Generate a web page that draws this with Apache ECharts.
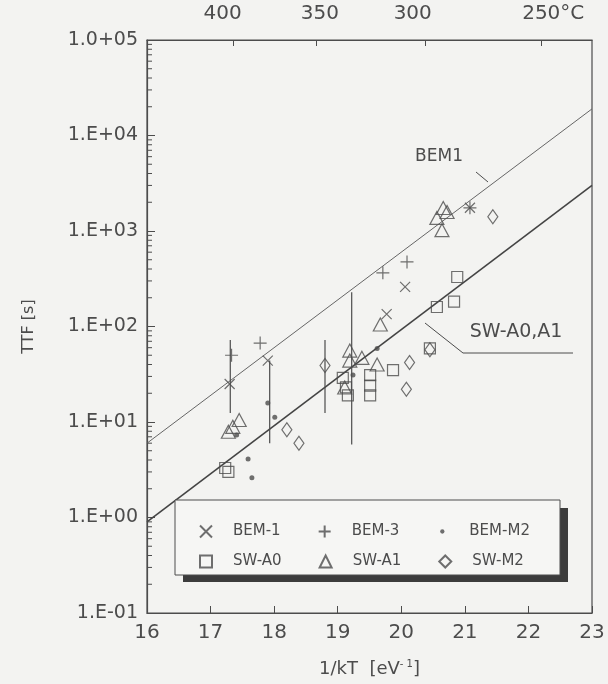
<!DOCTYPE html>
<html><head><meta charset="utf-8">
<script src="https://cdn.jsdelivr.net/npm/echarts@6/dist/echarts.min.js"></script>
<style>html,body{margin:0;padding:0;background:#f3f3f1;}#c{width:608px;height:684px;}</style>
</head><body><div id="c"></div>
<script>
// ---- data ----
const bem1 = [[17.30,25],[17.90,44],[19.77,135],[20.06,260],[21.08,1750]];
const bem3 = [[17.33,50],[17.78,67],[19.71,365],[20.09,475],[21.08,1750]];
const bemM2 = [[17.41,7.3],[17.59,4.1],[17.65,2.6],[17.90,15.8],[18.01,11.2],[19.24,31],[19.62,59]];
const swA0 = [[17.23,3.3],[17.28,3.0],[19.08,29],[19.13,23],[19.16,19],[19.51,31],[19.51,24],[19.51,19],[19.87,35],[20.45,59],[20.56,160],[20.83,182],[20.88,330]];
const swA1 = [[17.28,7.9],[17.35,8.9],[17.45,10.5],[19.11,23],[19.19,44],[19.19,56],[19.38,47],[19.62,40],[19.67,105],[20.56,1370],[20.64,1020],[20.66,1740],[20.72,1580]];
const swM2 = [[18.20,8.3],[18.39,6.0],[18.80,39],[20.08,22],[20.13,42],[20.45,57],[21.44,1410]];
const ranges = [[17.31,12.4,72],[17.93,6.0,44],[18.80,12.4,72],[19.22,5.8,229]];
const fitBEM1 = [[16,6.0],[23,19000]];
const fitSW = [[16,0.9],[23,3000]];
const yLabels = ['1.E-01','1.E+00','1.E+01','1.E+02','1.E+03','1.E+04','1.0+05'];
const topTicks = [17.36,18.66,20.37,22.20];
const topLabelPos = [17.19,18.72,20.18,22.39];
const topLabels = ['400','350','300','250°C'];

const INK = '#4c4c4c';
const FONT = 'DejaVu Sans';
const rangeData = [];
ranges.forEach(r => { rangeData.push([r[0], r[1]], [r[0], r[2]], null); });
const minorVals = [];
for (let k = -1; k < 5; k++) for (let m = 2; m <= 9; m++) minorVals.push([16, m * Math.pow(10, k)]);

const sym = (name, symbol, size, data, filled) => ({
  name, type: 'scatter', data, symbol, symbolSize: size, z: 3,
  itemStyle: filled ? {color: INK} : {color: 'rgba(0,0,0,0)', borderColor: INK, borderWidth: 1.2}
});
const X_PATH = 'path://M0,0L10,10M10,0L0,10';
const P_PATH = 'path://M5,0L5,10M0,5L10,5';
const legText = {fontFamily: FONT, fontSize: 15, color: INK, width: 60, padding: [0,0,0,16]};

const chart = echarts.init(document.getElementById('c'));
chart.setOption({
  backgroundColor: '#f3f3f1',
  animation: false,
  grid: {left: 147, right: 16, top: 40, bottom: 71, show: true, borderColor: INK, borderWidth: 1.2, backgroundColor: 'transparent'},
  xAxis: [{
    type: 'value', min: 16, max: 23, interval: 1, position: 'bottom',
    name: '1/kT  [eV{sup|- 1}]', nameLocation: 'middle', nameGap: 46,
    nameTextStyle: {fontFamily: FONT, fontSize: 18, color: INK, rich: {sup: {fontSize: 10, verticalAlign: 'top', padding: [0,0,10,0], color: INK, fontFamily: FONT}}},
    axisLine: {lineStyle: {color: INK, width: 1.2}},
    axisTick: {inside: true, length: 7, lineStyle: {color: INK}},
    axisLabel: {fontFamily: FONT, fontSize: 20, color: INK, margin: 10},
    splitLine: {show: false}
  }, {
    type: 'value', min: 16, max: 23, position: 'top',
    axisLine: {lineStyle: {color: INK, width: 1.2}},
    axisTick: {inside: true, length: 6, customValues: topTicks, lineStyle: {color: INK}},
    axisLabel: {customValues: topLabelPos, fontFamily: FONT, fontSize: 20, color: INK, margin: 16,
      formatter: v => { let b = 0; topLabelPos.forEach((p, i) => { if (Math.abs(p - v) < Math.abs(topLabelPos[b] - v)) b = i; }); return topLabels[b]; }},
    splitLine: {show: false}
  }],
  yAxis: {
    type: 'log', logBase: 10, min: 0.1, max: 100000,
    name: 'TTF [s]', nameLocation: 'middle', nameRotate: 90, nameGap: 110,
    nameTextStyle: {fontFamily: FONT, fontSize: 16, color: INK},
    axisLine: {lineStyle: {color: INK, width: 1.2}},
    axisTick: {inside: true, length: 8, lineStyle: {color: INK}},
    axisLabel: {fontFamily: FONT, fontSize: 19, color: INK, margin: 9,
      formatter: v => yLabels[Math.round(Math.log10(v)) + 1]},
    splitLine: {show: false}
  },
  legend: [{
    data: ['BEM-1','BEM-3', {name: 'BEM-M2', icon: 'path://M0,0M10,10M3.2,5A1.8,1.8 0 1,0 6.8,5A1.8,1.8 0 1,0 3.2,5Z'}],
    left: 194, top: 519, itemWidth: 12, itemHeight: 12, itemGap: 37, textStyle: legText
  }, {
    data: ['SW-A0','SW-A1','SW-M2'], left: 194, top: 549, itemWidth: 12, itemHeight: 12, itemGap: 37, textStyle: legText
  }],
  graphic: [
    {type: 'rect', shape: {x: 183, y: 508, width: 385, height: 74}, style: {fill: '#3c3c3c'}, z: 3, silent: true},
    {type: 'rect', shape: {x: 175, y: 500, width: 385, height: 75}, style: {fill: '#f6f6f4', stroke: INK, lineWidth: 1}, z: 3, silent: true},
    {type: 'text', x: 439, y: 157, style: {text: 'BEM1', fontFamily: FONT, fontSize: 17, fill: INK, align: 'center', verticalAlign: 'middle'}, z: 3},
    {type: 'polyline', shape: {points: [[476,172],[488,182]]}, style: {stroke: INK, lineWidth: 1, fill: null}, z: 3},
    {type: 'text', x: 516, y: 332, style: {text: 'SW-A0,A1', fontFamily: FONT, fontSize: 19, fill: INK, align: 'center', verticalAlign: 'middle'}, z: 3},
    {type: 'polyline', shape: {points: [[425,323],[463,353],[573,353]]}, style: {stroke: INK, lineWidth: 1, fill: null}, z: 3}
  ],
  series: [
    {name: 'fitBEM1', type: 'line', data: fitBEM1, symbol: 'none', lineStyle: {color: '#666', width: 1}, z: 1, silent: true},
    {name: 'fitSW', type: 'line', data: fitSW, symbol: 'none', lineStyle: {color: '#444', width: 1.6}, z: 1, silent: true},
    {name: 'ranges', type: 'line', data: rangeData, symbol: 'none', connectNulls: false, lineStyle: {color: INK, width: 1.2}, z: 2, silent: true},
    {name: 'minorTicks', type: 'custom', data: minorVals, silent: true, z: 2,
      renderItem: (params, api) => {
        const p = api.coord([api.value(0), api.value(1)]);
        return {type: 'line', shape: {x1: p[0], y1: p[1], x2: p[0] + 5, y2: p[1]}, style: {stroke: INK, lineWidth: 1}};
      }},
    sym('BEM-1', X_PATH, 10, bem1, false),
    sym('BEM-3', P_PATH, 13, bem3, false),
    sym('BEM-M2', 'circle', 5, bemM2, true),
    sym('SW-A0', 'rect', 11, swA0, false),
    sym('SW-A1', 'triangle', [14, 13], swA1, false),
    sym('SW-M2', 'diamond', [10, 14], swM2, false)
  ]
});
</script></body></html>
